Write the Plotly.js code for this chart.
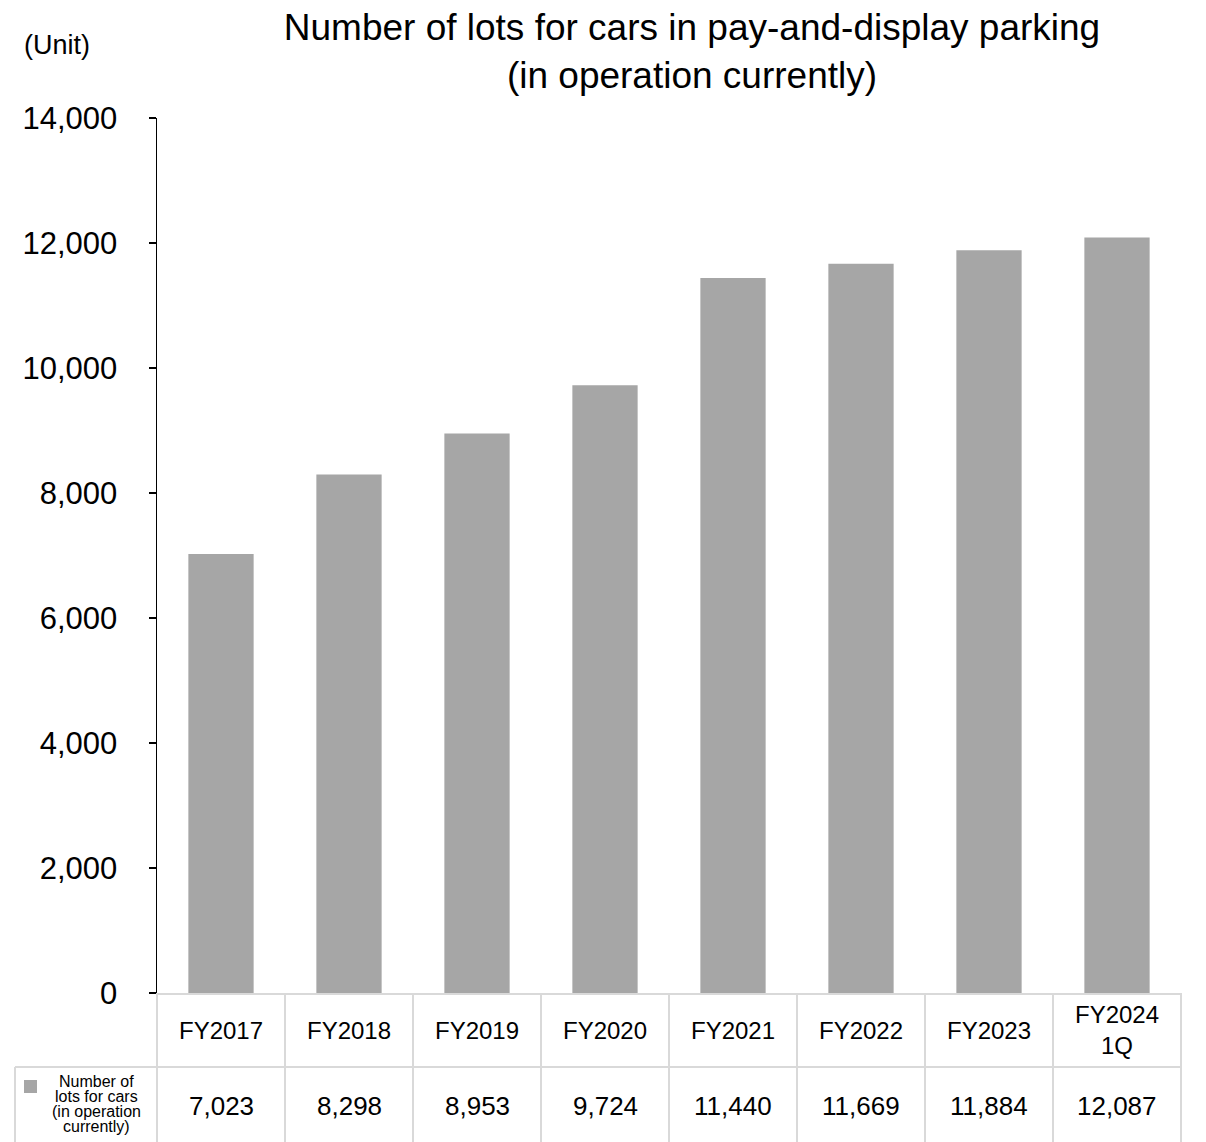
<!DOCTYPE html>
<html>
<head>
<meta charset="utf-8">
<script src="https://cdn.plot.ly/plotly-3.0.1.min.js"></script>
<style>html,body{margin:0;padding:0;background:#fff;}#chart{width:1206px;height:1142px;}</style>
</head>
<body>
<div id="chart"></div>
<script>
// ---- data ----
const categories = ["FY2017", "FY2018", "FY2019", "FY2020", "FY2021", "FY2022", "FY2023", "FY2024<br>1Q"];
const lotValues = [7023, 8298, 8953, 9724, 11440, 11669, 11884, 12087];
const seriesName = ["Number of", "lots for cars", "(in operation", "currently)"];
const chartTitle = "Number of lots for cars in pay-and-display parking<br>(in operation currently)";
const unitLabel = "(Unit)";
const yTicks = [0, 2000, 4000, 6000, 8000, 10000, 12000, 14000];

// ---- layout helpers ----
const W = 1206, H = 1142;
const M = {l: 157, r: 25, t: 118, b: 149};
const plotW = W - M.l - M.r, plotH = H - M.t - M.b;
const py = (pix) => (H - M.b - pix) / plotH;      // pixel y -> paper y
const px = (pix) => (pix - M.l) / plotW;          // pixel x -> paper x
const FONT = "Liberation Sans, Arial, Helvetica, sans-serif";
const gridC = "#d9d9d9";
const barC = "#a6a6a6";

const n = categories.length;
const xs = categories.map((_, i) => i);

const headerY = py(1030), rowTop = py(1067), valueY = py(1106), tableBottom = py(1142);

const shapes = [];
// vertical column borders
for (let i = 0; i <= n; i++) {
  shapes.push({type: "line", xref: "paper", yref: "paper", x0: i / n, x1: i / n, y0: 0, y1: tableBottom,
    line: {color: gridC, width: 2}});
}
// row separator incl. legend cell
shapes.push({type: "line", xref: "paper", yref: "paper", x0: px(15), x1: 1, y0: rowTop, y1: rowTop,
  line: {color: gridC, width: 2}});
// legend cell left border
shapes.push({type: "line", xref: "paper", yref: "paper", x0: px(15), x1: px(15), y0: rowTop, y1: tableBottom,
  line: {color: gridC, width: 2}});
// legend swatch
shapes.push({type: "rect", xref: "paper", yref: "paper", x0: px(24), x1: px(37), y0: py(1080), y1: py(1093),
  fillcolor: barC, line: {width: 0}});

const annotations = [];
categories.forEach((c, i) => {
  annotations.push({xref: "x", yref: "paper", x: i, y: headerY, text: c, showarrow: false,
    xanchor: "center", yanchor: "middle", font: {family: FONT, size: 24, color: "#000"}});
  annotations.push({xref: "x", yref: "paper", x: i, y: valueY, text: lotValues[i].toLocaleString("en-US"),
    showarrow: false, xanchor: "center", yanchor: "middle", font: {family: FONT, size: 26, color: "#000"}});
});
seriesName.forEach((t, k) => {
  annotations.push({xref: "paper", yref: "paper", x: px(96), y: py(1104 + (k - 1.5) * 15.3), text: t,
    showarrow: false, xanchor: "center", yanchor: "middle", font: {family: FONT, size: 16, color: "#000"}});
});
annotations.push({xref: "paper", yref: "paper", x: px(57), y: py(45), text: unitLabel, showarrow: false,
  xanchor: "center", yanchor: "middle", font: {family: FONT, size: 27, color: "#000"}});

const trace = {
  type: "bar", x: xs, y: lotValues, width: 0.51,
  marker: {color: barC, line: {width: 0}},
  hoverinfo: "y", showlegend: false
};

const layout = {
  width: W, height: H,
  margin: M,
  paper_bgcolor: "#fff", plot_bgcolor: "#fff",
  font: {family: FONT, color: "#000"},
  title: {text: chartTitle, x: 692 / W, xanchor: "center", xref: "container",
    y: 1 - 40 / H, yanchor: "top", yref: "container", font: {family: FONT, size: 37, color: "#000"}},
  xaxis: {range: [-0.5, n - 0.5], showticklabels: false, ticks: "", showgrid: false, zeroline: false,
    showline: true, linecolor: gridC, linewidth: 2, fixedrange: true},
  yaxis: {range: [0, 14000], tickvals: yTicks, tickformat: ",", showgrid: false, zeroline: false,
    showline: true, linecolor: "#000", linewidth: 1.5, ticks: "outside", ticklen: 7, tickwidth: 1.5,
    tickcolor: "#000", ticklabelstandoff: 25, tickfont: {family: FONT, size: 31, color: "#000"}, fixedrange: true},
  shapes: shapes,
  annotations: annotations
};

Plotly.newPlot("chart", [trace], layout, {displayModeBar: false, staticPlot: true});
</script>
</body>
</html>
